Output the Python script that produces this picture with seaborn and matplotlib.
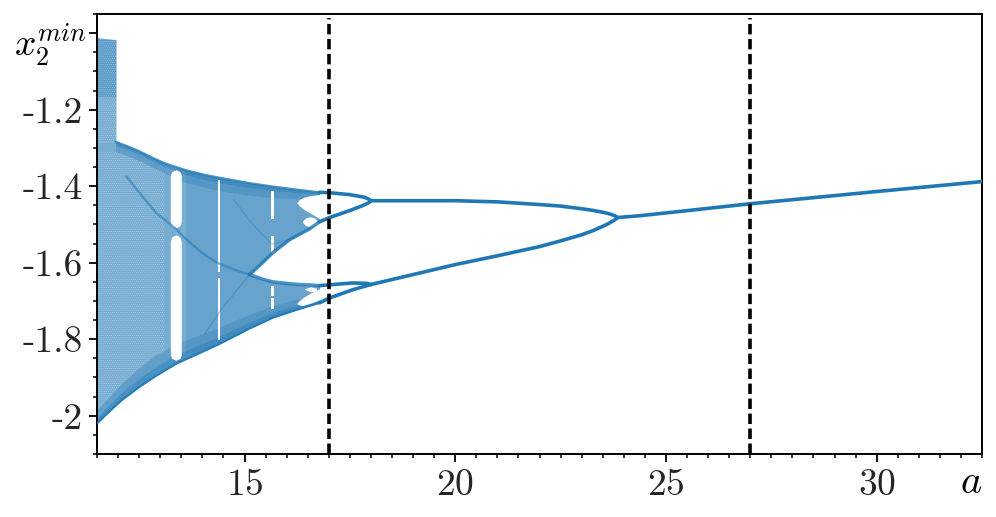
## bifurcation diagram of x2 minima against a

import numpy as np
import seaborn as sns
import matplotlib.pyplot as plt
import matplotlib as mpl

sns.set_style("ticks")
mpl.rcParams['mathtext.fontset'] = 'cm'
mpl.rcParams['font.family'] = ['cmr10', 'DejaVu Sans']
mpl.rcParams['axes.unicode_minus'] = False
mpl.rcParams['axes.formatter.use_mathtext'] = True
mpl.rcParams['hatch.linewidth'] = 0.5

blue = "#1f77b4"

# chaotic region envelopes
a_top = [11.94, 12.25, 12.51, 12.80, 13.10, 13.60, 14.00, 14.41, 15.12, 15.67, 16.24, 16.78]
y_top = [-1.284, -1.297, -1.309, -1.325, -1.340, -1.358, -1.369, -1.378, -1.392, -1.401, -1.409, -1.416]
a_bot = [11.50, 11.80, 12.10, 12.50, 12.91, 13.38, 13.90, 14.41, 15.12, 15.67, 16.24, 16.78]
y_bot = [-2.020, -1.988, -1.958, -1.925, -1.895, -1.864, -1.838, -1.812, -1.772, -1.744, -1.723, -1.705]

# denser strips along the envelopes
y_top_in1 = [-1.294, -1.306, -1.317, -1.334, -1.349, -1.370, -1.381, -1.391, -1.404, -1.411, -1.417, -1.421]
y_top_in2 = [-1.310, -1.322, -1.334, -1.350, -1.366, -1.390, -1.402, -1.412, -1.424, -1.430, -1.432, -1.430]
y_bot_in1 = [-2.005, -1.970, -1.938, -1.902, -1.870, -1.840, -1.816, -1.792, -1.755, -1.730, -1.710, -1.695]
y_bot_in2 = [-1.985, -1.950, -1.915, -1.875, -1.840, -1.812, -1.790, -1.768, -1.735, -1.712, -1.695, -1.685]

# edges of the white wedge between the two bands
a_wedge = [15.12, 15.43, 15.67, 16.07, 16.30, 16.54, 16.78]
y_wedge_up = [-1.631, -1.600, -1.574, -1.540, -1.526, -1.512, -1.493]
y_wedge_lo = [-1.631, -1.643, -1.650, -1.655, -1.657, -1.658, -1.660]

# block on the left
a_block = [11.50, 11.95]
y_block_top = [-1.012, -1.017]
y_block_mid = [-1.166, -1.166]
y_block_bot = [-1.284, -1.284]

# white lenses inside the bands
a_lens = [16.24, 16.30, 16.38, 16.54, 16.78]
y_lens1_up = [-1.443, -1.435, -1.430, -1.425, -1.422]
y_lens1_lo = [-1.443, -1.451, -1.459, -1.469, -1.485]
y_lens2_up = [-1.707, -1.699, -1.692, -1.681, -1.668]
y_lens2_lo = [-1.707, -1.710, -1.712, -1.707, -1.697]
a_small1 = [16.38, 16.45, 16.55, 16.65, 16.73]
y_small1_up = [-1.490, -1.483, -1.480, -1.482, -1.490]
y_small1_lo = [-1.495, -1.503, -1.506, -1.503, -1.496]
a_small2 = [16.43, 16.57, 16.71]
y_small2_up = [-1.668, -1.663, -1.667]
y_small2_lo = [-1.670, -1.676, -1.674]

# the wide window, rounded at its ends
a_w1 = [13.24, 13.27, 13.37, 13.47, 13.50]
y_w1a_up = [-1.372, -1.362, -1.357, -1.362, -1.372]
y_w1a_lo = [-1.494, -1.503, -1.509, -1.503, -1.494]
y_w1b_up = [-1.545, -1.533, -1.527, -1.533, -1.545]
y_w1b_lo = [-1.840, -1.850, -1.855, -1.850, -1.840]

# narrow windows: a from, a to, y from, y to
win_a0 = [14.38, 14.38, 15.62, 15.62, 15.62, 15.62]
win_a1 = [14.43, 14.43, 15.70, 15.70, 15.70, 15.70]
win_y0 = [-1.383, -1.640, -1.412, -1.530, -1.660, -1.692]
win_y1 = [-1.625, -1.803, -1.485, -1.575, -1.688, -1.722]

# darker curves running through the chaos
a_curve1 = [12.20, 12.60, 12.91, 13.38, 13.60, 14.00, 14.33, 14.75, 15.12]
y_curve1 = [-1.375, -1.430, -1.470, -1.512, -1.537, -1.575, -1.599, -1.618, -1.631]
a_curve2 = [15.12, 14.45, 14.05]
y_curve2 = [-1.631, -1.722, -1.787]
a_curve3 = [14.75, 15.10, 15.65, 16.07]
y_curve3 = [-1.435, -1.488, -1.552, -1.540]

# periodic branches right of the chaos
a_b4_up = [16.78, 17.00, 17.49, 17.85, 17.95, 18.00]
y_b4_a = [-1.416, -1.417, -1.422, -1.429, -1.434, -1.438]
a_b4_in = [16.78, 17.02, 17.49, 17.80, 17.95, 18.00]
y_b4_b = [-1.493, -1.482, -1.464, -1.451, -1.443, -1.438]
a_b4_lo1 = [16.78, 17.56, 17.90, 18.00]
y_b4_c = [-1.660, -1.653, -1.654, -1.657]
a_b4_lo2 = [16.78, 17.00, 17.56, 18.00]
y_b4_d = [-1.705, -1.693, -1.671, -1.657]
a_b2 = [18.00, 20.00, 21.00, 22.00, 22.50, 23.00, 23.25, 23.50, 23.65, 23.80, 23.85]
y_b2_up = [-1.438, -1.438, -1.441, -1.448, -1.452, -1.459, -1.463, -1.468, -1.472, -1.478, -1.482]
y_b2_lo = [-1.657, -1.605, -1.582, -1.558, -1.543, -1.527, -1.517, -1.505, -1.497, -1.487, -1.482]
a_b1 = [23.85, 24.40, 25.00, 27.00, 30.00, 32.50]
y_b1 = [-1.482, -1.477, -1.470, -1.446, -1.414, -1.388]

a_dash = [17, 27]
x_ticks = [15, 20, 25, 30]
y_ticks = [-2.0, -1.8, -1.6, -1.4, -1.2, -1.0]
y_labels = ['-2', '-1.8', '-1.6', '-1.4', '-1.2', '']

fig = plt.figure(figsize=(9.96, 5.17), dpi=100)
ax = fig.add_axes([97/996, 1-454/517, 885/996, 440/517])

# band fills, interpolated onto the union of the typed a values
def fill_between_curves(a1, y1, a2, y2, **kw):
    a = np.unique(np.concatenate([a1, a2]))
    ax.fill_between(a, np.interp(a, a1, y1), np.interp(a, a2, y2), linewidth=0, **kw)

fill_between_curves([11.5] + a_top, [-1.284] + y_top, a_bot, y_bot, color=blue, alpha=0.6)
fill_between_curves(a_block, y_block_top, a_block, y_block_bot, color=blue, alpha=0.6)
fill_between_curves(a_block, y_block_top, a_block, y_block_mid, color=blue, alpha=0.3)

# right part of the band is denser, and so are the edges
fill_between_curves(a_top[5:], y_top[5:], a_bot[6:], y_bot[6:], color=blue, alpha=0.18)
fill_between_curves(a_top, y_top, a_top, y_top_in2, color=blue, alpha=0.25)
fill_between_curves(a_top, y_top, a_top, y_top_in1, color=blue, alpha=0.35)
fill_between_curves(a_bot, y_bot, a_bot, y_bot_in2, color=blue, alpha=0.25)
fill_between_curves(a_bot, y_bot, a_bot, y_bot_in1, color=blue, alpha=0.35)

# speckle in the sparse left part
speck = dict(facecolor="none", edgecolor="white", hatch="........", alpha=0.3, zorder=1.5)
fill_between_curves(a_top[:5], y_top_in2[:5], a_bot[:5], y_bot_in2[:5], **speck)
fill_between_curves(a_block, y_block_top, a_block, y_block_bot, **speck)

# white wedge and lenses
white = dict(color="white", alpha=1, zorder=2.5)
fill_between_curves(a_wedge, y_wedge_up, a_wedge, y_wedge_lo, **white)
fill_between_curves(a_lens, y_lens1_up, a_lens, y_lens1_lo, **white)
fill_between_curves(a_lens, y_lens2_up, a_lens, y_lens2_lo, **white)
fill_between_curves(a_small1, y_small1_up, a_small1, y_small1_lo, **white)
fill_between_curves(a_small2, y_small2_up, a_small2, y_small2_lo, **white)
fill_between_curves(a_w1, y_w1a_up, a_w1, y_w1a_lo, **white)
fill_between_curves(a_w1, y_w1b_up, a_w1, y_w1b_lo, **white)
for a0, a1, y0, y1 in zip(win_a0, win_a1, win_y0, win_y1):
    fill_between_curves([a0, a1], [y0, y0], [a0, a1], [y1, y1], **white)

# envelopes and curves
for x, y, lw, al in [(a_top, y_top, 1.6, 0.8), (a_bot, y_bot, 1.6, 0.8),
                     (a_wedge, y_wedge_up, 2.5, 0.8), (a_wedge, y_wedge_lo, 2.5, 0.8),
                     (a_curve1, y_curve1, 1.8, 0.5), (a_curve2, y_curve2, 1.2, 0.3),
                     (a_curve3, y_curve3, 1.2, 0.25)]:
    sns.lineplot(x=x, y=y, ax=ax, color=blue, lw=lw, alpha=al, sort=False,
                 estimator=None, zorder=2.6)

# periodic branches
for x, y in [(a_b4_up, y_b4_a), (a_b4_in, y_b4_b), (a_b4_lo1, y_b4_c), (a_b4_lo2, y_b4_d),
             (a_b2, y_b2_up), (a_b2, y_b2_lo), (a_b1, y_b1)]:
    sns.lineplot(x=x, y=y, ax=ax, color=blue, lw=2.6, sort=False, estimator=None, zorder=2.7)

for a in a_dash:
    ax.axvline(a, ymax=0.99, color="black", lw=2.6, dashes=(2.9, 1.25), zorder=3)

ax.set_xlim(11.5, 32.5)
ax.set_ylim(-2.1, -0.95)
ax.set_xticks(x_ticks)
ax.set_yticks(y_ticks)
ax.set_yticklabels(y_labels)
ax.set_xticks(np.arange(11.5, 32.6, 0.5), minor=True)
ax.set_yticks(np.arange(-2.1, -0.94, 0.05), minor=True)
ax.tick_params(which='major', length=5.5, width=1.3, labelsize=27, pad=5, color='black')
ax.tick_params(which='minor', length=3, width=1.1, color='black')
for s in ax.spines.values():
    s.set_linewidth(1.4)
    s.set_color('black')

fig.text(14/996, 1-56/517, r'$x_2^{min}$', fontsize=27, color='black')
fig.text(960/996, 1-493/517, r'$a$', fontsize=29, color='black')

fig.savefig("out.png", dpi=100)
